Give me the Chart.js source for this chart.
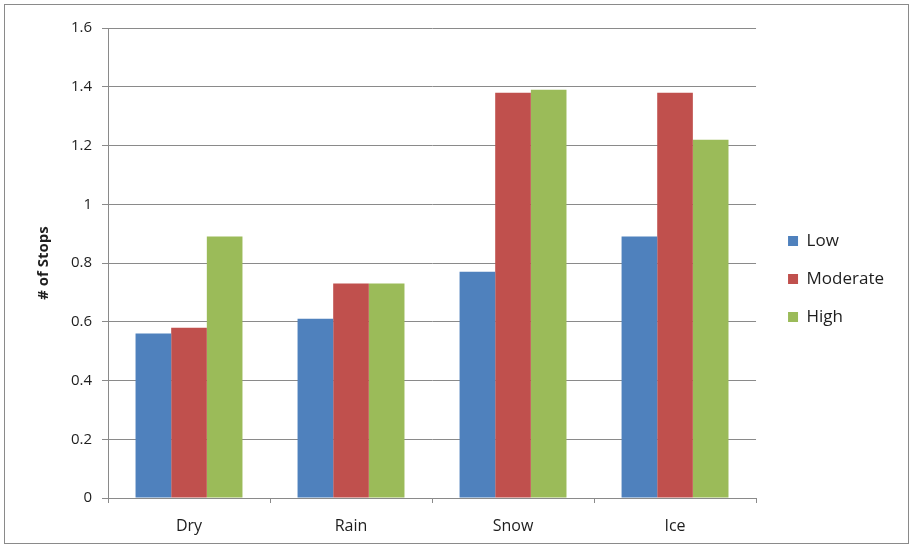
<!DOCTYPE html>
<html>
<head>
<meta charset="utf-8">
<script src="https://cdn.jsdelivr.net/npm/chart.js@4"></script>
<style>
  html, body { margin: 0; padding: 0; background: #fff; }
  #wrap { position: relative; width: 914px; height: 550px; }
  #frame { position: absolute; left: 4px; top: 4px; width: 905px; height: 540px;
           border: 1px solid #8a8a8a; pointer-events: none; box-sizing: border-box; }
</style>
</head>
<body>
<div id="wrap">
  <canvas id="chart" width="914" height="550"></canvas>
  <div id="frame"></div>
</div>
<script>
// Road conditions along the x axis
const categories = ['Dry', 'Rain', 'Snow', 'Ice'];
// Average number of stops per severity level
const lowValues = [0.56, 0.61, 0.77, 0.89];
const moderateValues = [0.58, 0.73, 1.38, 1.38];
const highValues = [0.89, 0.73, 1.39, 1.22];
const seriesNames = ['Low', 'Moderate', 'High'];
const seriesColors = ['#4F81BD', '#C0504D', '#9BBB59'];
const yTicks = [0, 0.2, 0.4, 0.6, 0.8, 1, 1.2, 1.4, 1.6];

const FONT = '"Open Sans", Lato, sans-serif';
const textColor = '#1e1e1e';
const lineColor = '#8a8a8a';

// invisible axis used only to reserve space around the plot
const spacer = (pos, size) => ({
  type: 'linear',
  position: pos,
  display: true,
  min: 0,
  max: 1,
  afterFit: (scale) => {
    if (pos === 'top' || pos === 'bottom') scale.height = size; else scale.width = size;
  },
  grid: { display: false },
  border: { display: false },
  ticks: { display: false }
});

new Chart(document.getElementById('chart'), {
  type: 'bar',
  data: {
    labels: categories,
    datasets: [lowValues, moderateValues, highValues].map((vals, i) => ({
      label: seriesNames[i],
      data: vals,
      backgroundColor: seriesColors[i],
      borderWidth: 0,
      categoryPercentage: 0.66,
      barPercentage: 1.0
    }))
  },
  options: {
    responsive: false,
    animation: false,
    layout: { padding: { left: 35, right: 20, top: 8, bottom: 0 } },
    plugins: {
      tooltip: { enabled: false },
      legend: {
        position: 'right',
        labels: {
          boxWidth: 10,
          boxHeight: 10,
          padding: 21,
          color: textColor,
          font: { family: FONT, size: 17 }
        }
      }
    },
    scales: {
      x: {
        afterFit: (scale) => { scale.height = 52; },
        grid: { drawOnChartArea: false, drawTicks: true, tickLength: 5, color: lineColor, offset: true },
        border: { color: lineColor, width: 1 },
        ticks: { color: textColor, font: { family: FONT, size: 16 }, padding: 14 }
      },
      y: {
        min: 0,
        max: 1.6,
        afterBuildTicks: (scale) => { scale.ticks = yTicks.map(v => ({ value: v })); },
        afterFit: (scale) => { scale.width = 73; },
        grid: { color: lineColor, tickLength: 6, lineWidth: 1 },
        border: { color: lineColor, width: 1 },
        ticks: {
          color: textColor,
          font: { family: FONT, size: 15 },
          padding: 10,
          callback: (v) => String(Math.round(v * 10) / 10)
        },
        title: {
          display: true,
          text: '# of Stops',
          color: textColor,
          font: { family: FONT, size: 15, weight: 'bold' },
          padding: { top: 0, bottom: 0 }
        }
      },
      gapTop: spacer('top', 20),
      gapRight: spacer('right', 11)
    }
  }
});
</script>
</body>
</html>
